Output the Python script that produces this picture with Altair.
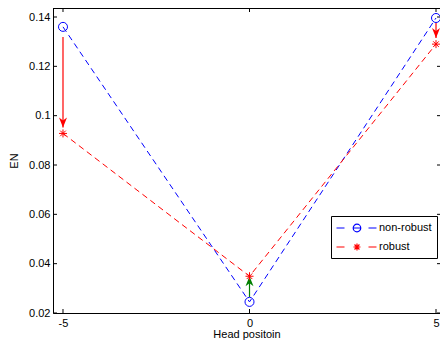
import altair as alt
import pandas as pd

# ---- data ----
positions = [-5, 0, 5]
nonrobust = [0.136, 0.0245, 0.1396]
robust = [0.0928, 0.0349, 0.129]
series_names = ["non-robust", "robust"]
series_colors = ["#0000ff", "#ff0000"]

arrow_x = [-5, 0, 5]
arrow_from = [0.1319, 0.0265, 0.1376]
arrow_to = [0.0952, 0.0349, 0.1315]
arrow_color = ["#ff0000", "#008000", "#ff0000"]
arrow_dir = ["down", "up", "down"]

x_ticks = [-5, 0, 5]
y_ticks = [0.02, 0.04, 0.06, 0.08, 0.10, 0.12, 0.14]

W, H = 387, 305
FONT = "Liberation Sans"

xs = alt.Scale(domain=[-5.268, 5.107], nice=False, zero=False)
ys = alt.Scale(domain=[0.02, 0.14365], nice=False, zero=False)

x_axis = alt.Axis(values=x_ticks, tickSize=0, domain=True, domainColor="black",
                  domainWidth=1, grid=False,
                  labelFont=FONT, labelFontSize=11, labelColor="black",
                  labelPadding=4, labelExpr="'' + datum.value",
                  title="Head positoin", titleFont=FONT, titleFontSize=11,
                  titleFontWeight="normal", titleColor="black",
                  titleBaseline="alphabetic", titleY=24)
y_axis = alt.Axis(values=y_ticks, tickSize=0, domain=True, domainColor="black",
                  domainWidth=1, grid=False,
                  labelFont=FONT, labelFontSize=11, labelColor="black",
                  labelPadding=3, format="~g",
                  title="EN", titleFont=FONT, titleFontSize=11,
                  titleFontWeight="normal", titleColor="black", titlePadding=9.5)


def X(f):
    return alt.X(f"{f}:Q", scale=xs, axis=x_axis)


def Y(f):
    return alt.Y(f"{f}:Q", scale=ys, axis=y_axis)


nr_df = pd.DataFrame({"x": positions, "y": nonrobust})
r_df = pd.DataFrame({"x": positions, "y": robust})
long_df = pd.DataFrame({
    "x": positions * 2,
    "y": nonrobust + robust,
    "series": [series_names[0]] * 3 + [series_names[1]] * 3,
})
arr_df = pd.DataFrame({"x": arrow_x, "from": arrow_from, "to": arrow_to,
                       "color": arrow_color, "dir": arrow_dir})
xt_df = pd.DataFrame({"v": x_ticks})
yt_df = pd.DataFrame({"v": y_ticks})

asterisk = "M-1,0L1,0M0,-1L0,1M-0.7,-0.7L0.7,0.7M-0.7,0.7L0.7,-0.7"
head_down = "M0,0L-0.4,-1L0,-0.7L0.4,-1Z"
head_up = "M0,0L-0.4,1L0,0.7L0.4,1Z"
# legend glyphs: dash - marker - dash
leg_nr = ("M-1.083,0L0.25,0M1.75,0L2.92,0"
          "M2.96,0A0.63,0.63 0 1 1 1.70,0A0.63,0.63 0 1 1 2.96,0"
          "M4.25,0L5.58,0")
leg_r = ("M-1.083,0L0.25,0M4.25,0L5.58,0M1.75,0L2.91,0M2.33,-0.58L2.33,0.58"
         "M1.92,-0.41L2.74,0.41M1.92,0.41L2.74,-0.41")

# frame top edge and inward ticks
top_edge = alt.Chart(xt_df).mark_rule(color="black", strokeWidth=1).encode(
    x=alt.value(0), x2=alt.value(W), y=alt.value(0.5))
left_ticks = alt.Chart(yt_df).mark_rule(color="black", strokeWidth=1).encode(
    y=Y("v"), x=alt.value(0), x2=alt.value(4))
right_ticks = alt.Chart(yt_df).mark_rule(color="black", strokeWidth=1).encode(
    y=Y("v"), x=alt.value(W - 3), x2=alt.value(W))
top_ticks = alt.Chart(xt_df).mark_rule(color="black", strokeWidth=1).encode(
    x=X("v"), y=alt.value(0), y2=alt.value(4))
bot_ticks = alt.Chart(xt_df).mark_rule(color="black", strokeWidth=1).encode(
    x=X("v"), y=alt.value(H - 4), y2=alt.value(H))

nr_line = alt.Chart(nr_df).mark_line(color=series_colors[0], strokeWidth=1,
                                     strokeDash=[6, 4]).encode(x=X("x"), y=Y("y"))
r_line = alt.Chart(r_df).mark_line(color=series_colors[1], strokeWidth=1,
                                   strokeDash=[6, 4]).encode(x=X("x"), y=Y("y"))

arr_rule = alt.Chart(arr_df).mark_rule(strokeWidth=1.2).encode(
    x=X("x"), y=Y("from"), y2="to:Q", color=alt.Color("color:N", scale=None))
arr_down = alt.Chart(arr_df).transform_filter("datum.dir == 'down'").mark_point(
    shape=head_down, filled=True, size=400, opacity=1, strokeWidth=0).encode(
    x=X("x"), y=Y("to"), color=alt.Color("color:N", scale=None))
arr_up = alt.Chart(arr_df).transform_filter("datum.dir == 'up'").mark_point(
    shape=head_up, filled=True, size=400, opacity=1, strokeWidth=0).encode(
    x=X("x"), y=Y("to"), color=alt.Color("color:N", scale=None))

nr_pts = alt.Chart(nr_df).mark_point(shape="circle", filled=False, size=81,
                                     strokeWidth=1, opacity=1,
                                     color=series_colors[0]).encode(x=X("x"), y=Y("y"))
r_pts = alt.Chart(r_df).mark_point(shape=asterisk, filled=False, size=64,
                                   strokeWidth=1, opacity=1,
                                   color=series_colors[1]).encode(x=X("x"), y=Y("y"))

legend = alt.Legend(title=None, orient="none", legendX=278, legendY=208,
                    fillColor="white", strokeColor="black", padding=5,
                    cornerRadius=0, symbolSize=144, symbolStrokeWidth=1.2,
                    symbolOpacity=1, labelFont=FONT, labelFontSize=11,
                    labelColor="black", labelOffset=29, rowPadding=5)
leg_layer = alt.Chart(long_df).mark_point(filled=False, opacity=0).encode(
    x=X("x"), y=Y("y"),
    color=alt.Color("series:N", scale=alt.Scale(domain=series_names, range=series_colors),
                    legend=legend),
    shape=alt.Shape("series:N", scale=alt.Scale(domain=series_names, range=[leg_nr, leg_r]),
                    legend=legend),
)

chart = alt.layer(
    top_edge, left_ticks, right_ticks, top_ticks, bot_ticks,
    nr_line, r_line, arr_rule, arr_down, arr_up, nr_pts, r_pts, leg_layer,
).properties(
    width=W, height=H,
    padding={"left": 45, "top": 0, "right": 0, "bottom": 27},
    autosize=alt.AutoSizeParams(type="none"),
    background="white",
).configure_view(stroke=None)

chart.save("out.html", embed_options={"renderer": "svg", "actions": False})
